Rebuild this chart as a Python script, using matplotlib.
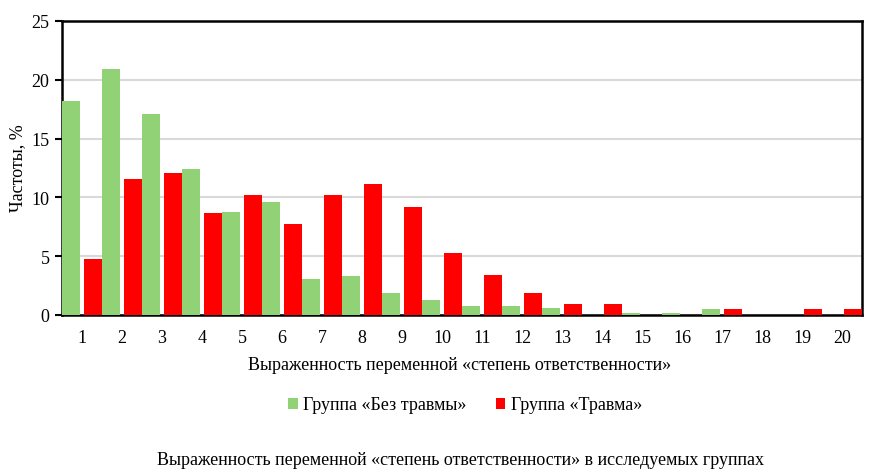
import matplotlib.pyplot as plt
import numpy as np

plt.rcParams['font.family'] = ['Liberation Serif', 'DejaVu Serif']

# values
categories = list(range(1, 21))
no_trauma = [18.2, 20.9, 17.1, 12.4, 8.8, 9.6, 3.1, 3.3, 1.9, 1.3,
             0.8, 0.8, 0.6, 0.0, 0.2, 0.2, 0.55, 0.0, 0.0, 0.0]
trauma = [4.8, 11.6, 12.1, 8.7, 10.2, 7.7, 10.2, 11.1, 9.2, 5.3,
          3.4, 1.9, 0.9, 0.9, 0.0, 0.0, 0.5, 0.0, 0.5, 0.5]
labels = ['Группа «Без травмы»', 'Группа «Травма»']

fs = 13
W, H = 872, 477
fig = plt.figure(figsize=(W / 100, H / 100), dpi=100)
ax = fig.add_axes([62 / W, 1 - 316 / H, 800 / W, 294 / H])

x = np.array(categories)
bw = 0.45
ax.bar(x - 0.275, no_trauma, width=bw, color='#92D277', label=labels[0], zorder=3)
ax.bar(x + 0.275, trauma, width=bw, color='#FF0000', label=labels[1], zorder=3)

ax.set_xlim(0.5, 20.5)
ax.set_ylim(0, 25)
ax.set_yticks(range(0, 26, 5))
ax.set_xticks(categories)
ax.yaxis.grid(True, color='#D9D9D9', linewidth=1.5, zorder=0)
ax.set_axisbelow(True)
for s in ax.spines.values():
    s.set_linewidth(1.8)
    s.set_color('black')
ax.tick_params(axis='x', length=0, pad=10, labelsize=fs)
ax.tick_params(axis='y', length=5, width=1.5, pad=4, labelsize=fs)

fig.text(18 / W, 1 - 168 / H, 'Частоты, %', rotation=90,
         ha='center', va='center', fontsize=fs)
fig.text(460 / W, 1 - 366 / H, 'Выраженность переменной «степень ответственности»',
         ha='center', va='center', fontsize=fs)
fig.legend(loc='center', bbox_to_anchor=(465 / W, 1 - 406 / H), ncol=2,
           frameon=False, fontsize=fs, handlelength=0.55, handleheight=0.55,
           handletextpad=0.3, columnspacing=1.6)
fig.text(157 / W, 1 - 461 / H,
         'Выраженность переменной «степень ответственности» в исследуемых группах',
         ha='left', va='center', fontsize=fs)

fig.savefig('out.png', dpi=100)
